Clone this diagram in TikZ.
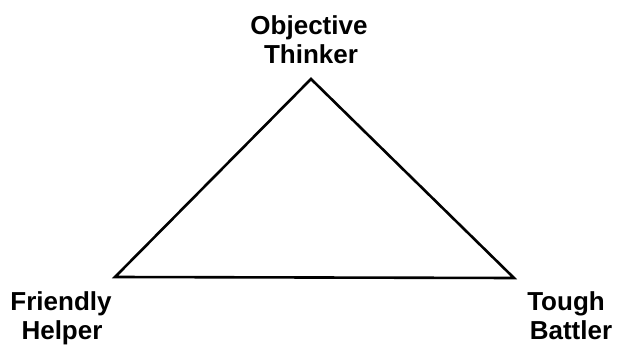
\documentclass[tikz,border=0pt]{standalone}
\usepackage{fontspec}
\setmainfont{Liberation Sans}
\begin{document}
\begin{tikzpicture}[x=1pt,y=-1pt,
  lbl/.style={font=\fontsize{26}{30}\selectfont\bfseries, anchor=base, inner sep=0pt},
  edge/.style={line width=2.6pt, line join=miter}]
\useasboundingbox (0,0) rectangle (623,347);
\coordinate (top) at (311,79);
\coordinate (left) at (115,277);
\coordinate (right) at (514,278);
\draw[edge] (top) -- (left) -- (right) -- cycle;
\node[lbl] (obj) at (309,35) {Objective};
\node[lbl] (thi) at (311,64) {Thinker};
\node[lbl] (fri) at (61,310) {Friendly};
\node[lbl] (hel) at (62,339) {Helper};
\node[lbl] (tou) at (566,310) {Tough};
\node[lbl] (bat) at (571,339) {Battler};
\end{tikzpicture}
\end{document}
